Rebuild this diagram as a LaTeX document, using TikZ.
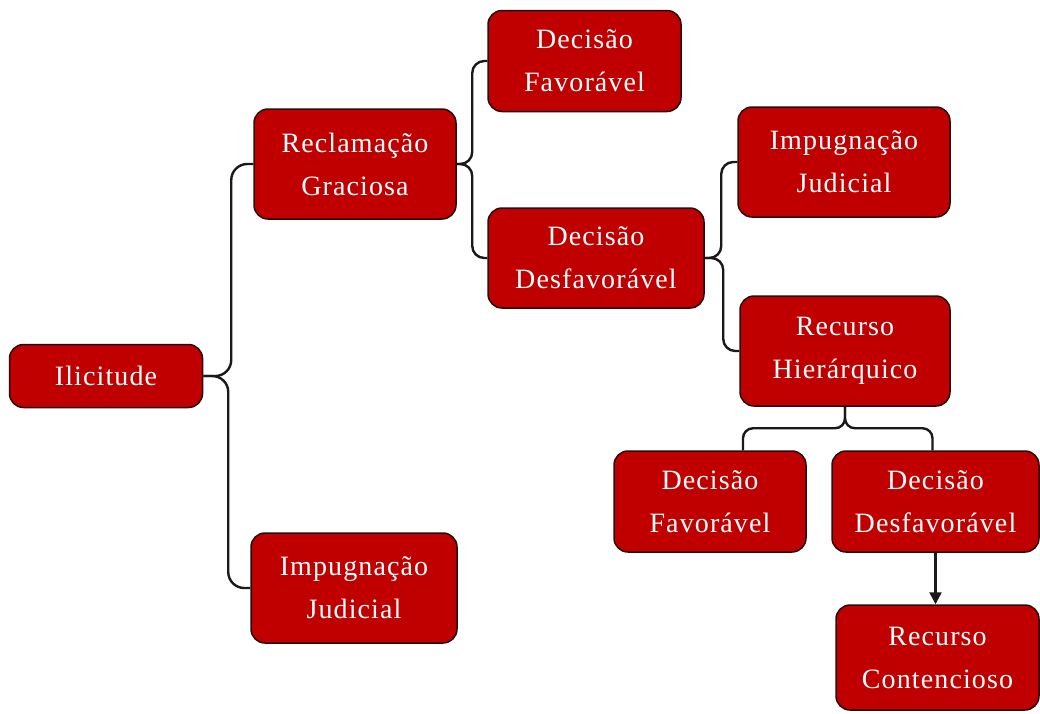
\documentclass[tikz,border=0pt]{standalone}
\usepackage{fontspec}
\setmainfont{Liberation Serif}
\newfontfamily\caixafont[LetterSpace=4]{Liberation Serif}
\usetikzlibrary{arrows.meta}

\definecolor{vermelho}{RGB}{192,0,0}
\definecolor{borda}{RGB}{40,10,10}

\tikzset{
    caixa/.style={draw=borda, fill=vermelho, line width=1.5pt, rounded corners=14pt,
        text=white, align=center, inner sep=0pt,
        font=\caixafont\fontsize{28}{43}\selectfont},
    chave/.style={draw=black!90, line width=2.4pt, rounded corners=16pt},
    seta/.style={draw=black!90, line width=2.4pt, -{Triangle[length=12pt,width=12pt]}}
}

\begin{document}
\begin{tikzpicture}[x=1pt, y=-1pt]
    \useasboundingbox (0,0) rectangle (1040,713);

    % caixas
    \node[caixa, minimum width=193pt, minimum height=63pt] (ilicitude) at (106,376) {Ilicitude};
    \node[caixa, minimum width=202pt, minimum height=110pt] (reclamacao) at (355,164) {Reclamação\\Graciosa};
    \node[caixa, minimum width=206pt, minimum height=110pt] (impugA) at (354,588) {Impugnação\\Judicial};
    \node[caixa, minimum width=193pt, minimum height=101pt] (decFav) at (584.5,61) {Decisão\\Favorável};
    \node[caixa, minimum width=216pt, minimum height=100pt] (decDesf) at (596,258) {Decisão\\Desfavorável};
    \node[caixa, minimum width=212pt, minimum height=110pt] (impugB) at (844,162) {Impugnação\\Judicial};
    \node[caixa, minimum width=210pt, minimum height=110pt] (recHier) at (845,351) {Recurso\\Hierárquico};
    \node[caixa, minimum width=192pt, minimum height=101pt] (decFavB) at (710,501.5) {Decisão\\Favorável};
    \node[caixa, minimum width=207pt, minimum height=101pt] (decDesfB) at (935.5,501.5) {Decisão\\Desfavorável};
    \node[caixa, minimum width=203pt, minimum height=105pt] (recCont) at (937.5,657.5) {Recurso\\Contencioso};

    % ligacoes
    \draw[chave] (ilicitude.east) -| ([xshift=-22pt]reclamacao.west) -- (reclamacao.west);
    \draw[chave] (ilicitude.east) -| ([xshift=-22pt]impugA.west) -- (impugA.west);
    \draw[chave, rounded corners=12pt] (reclamacao.east) -| ([xshift=-15pt]decFav.west) -- (decFav.west);
    \draw[chave, rounded corners=12pt] (reclamacao.east) -| ([xshift=-15pt]decDesf.west) -- (decDesf.west);
    \draw[chave, rounded corners=12pt] (decDesf.east) -| ([xshift=-16pt]impugB.west) -- (impugB.west);
    \draw[chave, rounded corners=12pt] (decDesf.east) -| ([xshift=-16pt]recHier.west) -- (recHier.west);
    \draw[chave, rounded corners=10pt] (recHier.south) |- ([xshift=33pt, yshift=22pt]decFavB.north) -- ([xshift=33pt]decFavB.north);
    \draw[chave, rounded corners=10pt] (recHier.south) |- ([xshift=-3pt, yshift=22pt]decDesfB.north) -- ([xshift=-3pt]decDesfB.north);
    \draw[seta] (decDesfB.south) -- (decDesfB.south |- recCont.north);
\end{tikzpicture}
\end{document}
